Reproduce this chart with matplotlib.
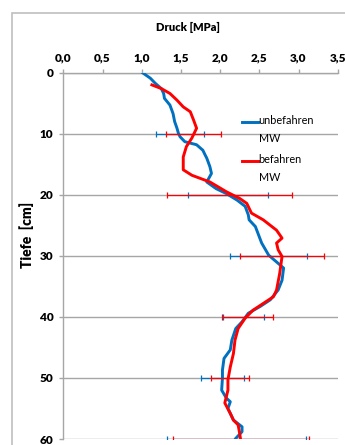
from matplotlib import pyplot as plt
from matplotlib.patches import Rectangle
from matplotlib.legend_handler import HandlerLine2D
import numpy as np

plt.rcParams['font.family'] = ['Lato', 'DejaVu Sans']

# unbefahren MW: Tiefe [cm], Druck [MPa]
blue_depth = [0, 0.9, 1.7, 2.6, 3.4, 4.2, 5.3, 6.7, 8.0, 9.1, 10.0, 10.5, 11.3, 11.8,
              12.7, 13.5, 14.0, 15.4, 16.5, 17.9, 19.0, 19.8, 20.9, 21.9, 23.3, 24.1,
              25.2, 27.9, 29.9, 31.0, 32.0, 34.0, 35.6, 37.2, 38.3, 39.4, 40.8, 41.9,
              43.8, 45.4, 46.8, 48.7, 50.0, 52.0, 53.3, 53.9, 55.0, 56.9, 58.0, 58.8, 59.9]
blue_val = [1.01, 1.11, 1.17, 1.25, 1.28, 1.29, 1.36, 1.40, 1.42, 1.45, 1.47, 1.49, 1.55, 1.70,
            1.78, 1.81, 1.83, 1.87, 1.89, 1.83, 1.95, 2.08, 2.22, 2.32, 2.36, 2.37,
            2.45, 2.53, 2.62, 2.72, 2.81, 2.79, 2.74, 2.64, 2.51, 2.36, 2.28, 2.20,
            2.15, 2.13, 2.05, 2.03, 2.03, 2.02, 2.08, 2.13, 2.10, 2.17, 2.28, 2.28, 2.20]

# befahren MW
red_depth = [2.0, 2.6, 3.4, 4.5, 5.6, 6.4, 7.7, 9.1, 10.7, 12.1, 13.8, 15.9, 16.8, 17.9,
             19.5, 20.6, 21.4, 23.0, 24.1, 25.8, 27.1, 27.9, 29.0, 30.1, 32.9, 35.6,
             36.7, 37.8, 38.9, 40.2, 41.9, 43.8, 46.0, 48.2, 50.3, 52.0, 54.1, 55.8,
             56.9, 57.7, 59.1, 60.0]
red_val = [1.13, 1.25, 1.36, 1.45, 1.53, 1.62, 1.66, 1.70, 1.64, 1.57, 1.53, 1.53, 1.64, 1.87,
           2.08, 2.25, 2.34, 2.40, 2.55, 2.72, 2.79, 2.72, 2.74, 2.79, 2.76, 2.72,
           2.68, 2.55, 2.42, 2.32, 2.23, 2.19, 2.17, 2.13, 2.10, 2.10, 2.06, 2.13,
           2.17, 2.23, 2.25, 2.26]

# Fehlerbalken (Standardabweichung) alle 10 cm
err_depth = [10, 20, 30, 40, 50, 60]
blue_err_mean = [1.49, 2.10, 2.62, 2.30, 2.03, 2.21]
blue_err_sd = [0.31, 0.51, 0.49, 0.26, 0.27, 0.89]
red_err_mean = [1.66, 2.12, 2.79, 2.35, 2.13, 2.27]
red_err_sd = [0.355, 0.80, 0.54, 0.32, 0.24, 0.87]

x_ticks = [0, 0.5, 1.0, 1.5, 2.0, 2.5, 3.0, 3.5]
x_labels = ['0,0', '0,5', '1,0', '1,5', '2,0', '2,5', '3,0', '3,5']
y_ticks = [0, 10, 20, 30, 40, 50, 60]

blue = '#0070C0'
red = '#FF0000'
grey = '#A6A6A6'


# Legendenlinie auf Hoehe der ersten Textzeile (wie Excel)
class TopLine(HandlerLine2D):
    def create_artists(self, legend, orig_handle, xdescent, ydescent, width, height,
                       fontsize, trans):
        arts = super().create_artists(legend, orig_handle, xdescent, ydescent, width,
                                      height, fontsize, trans)
        for a in arts:
            a.set_ydata(np.asarray(a.get_ydata()) + 6.0)
        return arts


W, H = 345, 445
fig = plt.figure(figsize=(W / 100, H / 100), dpi=100)
ax = fig.add_axes([63.3 / W, 1 - 439 / H, (337.7 - 63.3) / W, (439 - 72.7) / H])

# Rahmen des Diagrammbereichs
fig.patches.append(Rectangle((11.7 / W, -0.1), 1.2, 1.1 - 12.7 / H, transform=fig.transFigure,
                             fill=False, edgecolor='#BFBFBF', linewidth=1.2))

l1, = ax.plot(blue_val, blue_depth, color=blue, linewidth=2.1, label='unbefahren\nMW', zorder=3)
ax.errorbar(blue_err_mean, err_depth, xerr=blue_err_sd, fmt='none', ecolor=blue,
            elinewidth=0.9, capsize=2, capthick=0.9, zorder=3)
l2, = ax.plot(red_val, red_depth, color=red, linewidth=2.1, label='befahren\nMW', zorder=4)
ax.errorbar(red_err_mean, err_depth, xerr=red_err_sd, fmt='none', ecolor=red,
            elinewidth=0.9, capsize=2, capthick=0.9, zorder=4)

ax.set_xlim(0, 3.5)
ax.set_ylim(60, 0)
ax.xaxis.tick_top()
ax.set_xticks(x_ticks)
ax.set_xticklabels(x_labels, fontsize=8.5, fontweight='heavy')
ax.set_yticks(y_ticks)
ax.set_yticklabels([str(t) for t in y_ticks], fontsize=8.5, fontweight='heavy')
ax.tick_params(axis='both', length=3, color=grey, width=1, pad=4)
ax.grid(axis='y', color=grey, linewidth=1)
for s in ['right', 'bottom']:
    ax.spines[s].set_visible(False)
for s in ['top', 'left']:
    ax.spines[s].set_color(grey)
    ax.spines[s].set_linewidth(1)

fig.text(188.5 / W, 1 - 27.7 / H, 'Druck [MPa]', ha='center', va='center',
         fontsize=8, fontweight='heavy')
fig.text(26.7 / W, 1 - 234.5 / H, 'Tiefe  [cm]', ha='center', va='center', rotation=90,
         fontsize=10, fontweight='heavy')

leg = ax.legend(handles=[l1, l2], loc='upper left', bbox_to_anchor=(0.651, 0.884),
                frameon=False, fontsize=7.8, handlelength=1.45, handletextpad=0.1,
                labelspacing=0.95, borderaxespad=0, borderpad=0,
                handler_map={l1: TopLine(), l2: TopLine()})
for t in leg.get_texts():
    t.set_linespacing(1.75)

fig.savefig('out.png', dpi=100)
